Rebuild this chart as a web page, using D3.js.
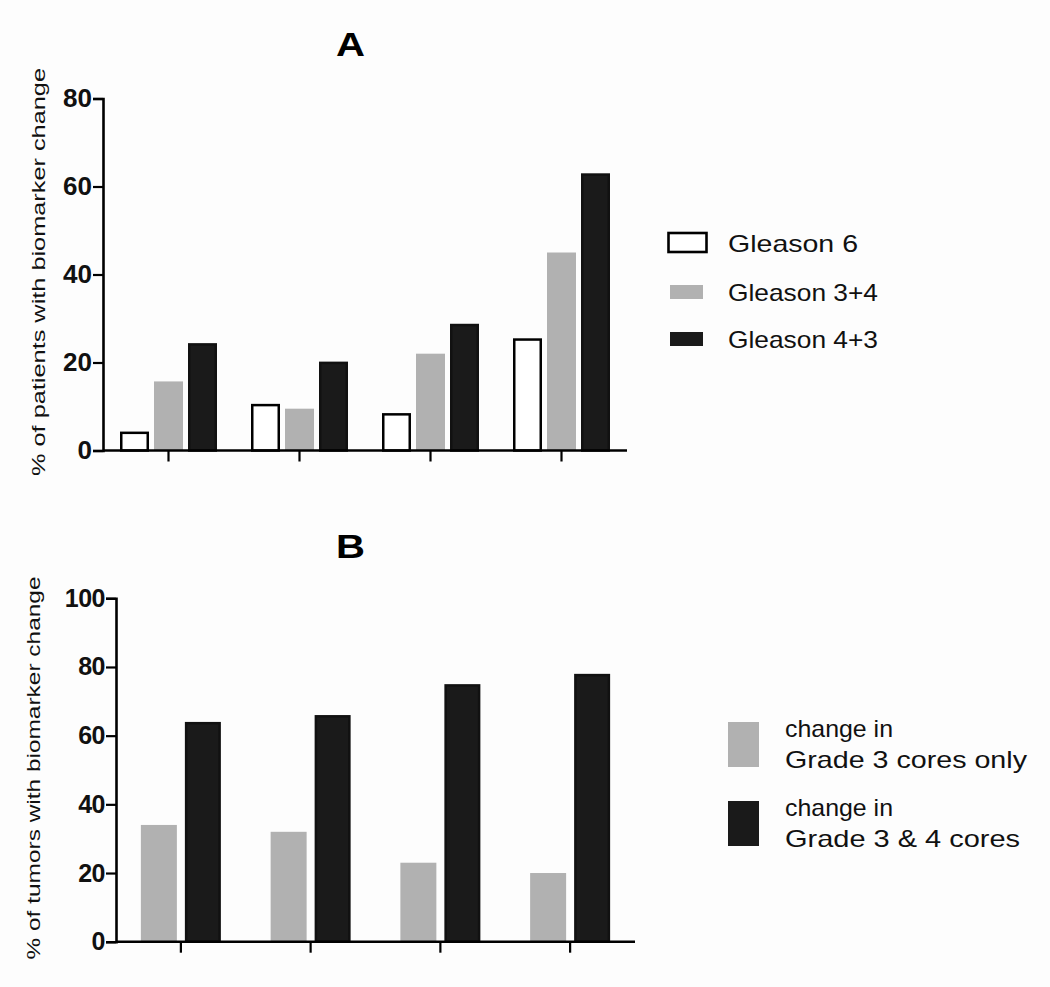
<!DOCTYPE html>
<html><head><meta charset="utf-8">
<script src="https://cdn.jsdelivr.net/npm/d3@7"></script>
<style>body{margin:0;background:#fdfdfd;}svg{display:block;}</style>
</head><body>
<svg id="c" width="1050" height="987"></svg>
<script>
// Panel A data
const categoriesA = ["1", "2", "3", "4"];
const seriesA = ["Gleason 6", "Gleason 3+4", "Gleason 4+3"];
const gleason6 = [4.3, 10.6, 8.5, 25.5];
const gleason34 = [15.7, 9.5, 22, 45];
const gleason43 = [24.4, 20.2, 28.8, 63];
const ticksA = [0, 20, 40, 60, 80];
// Panel B data
const categoriesB = ["1", "2", "3", "4"];
const seriesB = ["change in\nGrade 3 cores only", "change in\nGrade 3 & 4 cores"];
const grade3Only = [34, 32, 23, 20];
const grade34 = [64, 66, 75, 78];
const ticksB = [0, 20, 40, 60, 80, 100];

const GRAY = "#b1b1b1", BLACK = "#1a1a1a";
const svg = d3.select("#c");
const FONT = "'Liberation Sans', Arial, sans-serif";

function panel(o) {
  const g = svg.append("g");
  const y = d3.scaleLinear().domain([0, o.max]).range([o.y0, o.y1]);
  const x = d3.scaleBand().domain(o.cats).range([o.x0, o.x1]);
  const xi = d3.scaleBand().domain(o.series).range([-o.inner, o.inner]);
  o.series.forEach((s, si) => {
    const vals = o.values[si];
    const sw = o.strokes[si] === "none" ? 0 : 2.5;
    const w = o.bw - sw;
    g.selectAll(null).data(o.cats).enter().append("rect")
      .attr("x", (c) => x(c) + x.bandwidth() / 2 + xi(s) + xi.bandwidth() / 2 - w / 2)
      .attr("width", w)
      .attr("y", (c, i) => y(vals[i]) + sw / 2)
      .attr("height", (c, i) => y(0) - y(vals[i]) - sw / 2)
      .attr("fill", o.fills[si])
      .attr("stroke", o.strokes[si])
      .attr("stroke-width", sw);
  });
  const ya = g.append("g").attr("transform", `translate(${o.x0},0)`)
    .call(d3.axisLeft(y).tickValues(o.ticks).tickSize(10).tickPadding(1));
  ya.select(".domain").attr("stroke", "#000").attr("stroke-width", 2.6);
  ya.selectAll(".tick line").attr("stroke", "#000").attr("stroke-width", 2.2);
  ya.selectAll(".tick text").attr("font-family", FONT).attr("font-size", o.tfs)
    .attr("font-weight", "bold").attr("letter-spacing", o.tls).attr("fill", "#111");
  const xa = g.append("g").attr("transform", `translate(0,${o.y0})`)
    .call(d3.axisBottom(x).tickSize(11).tickFormat(""));
  xa.select(".domain").attr("stroke", "#000").attr("stroke-width", 2.6)
    .attr("d", `M${o.x0},0H${o.x1}`);
  xa.selectAll(".tick line").attr("stroke", "#000").attr("stroke-width", 2.2);
  g.append("text").attr("x", o.tx).attr("y", o.ty).attr("text-anchor", "middle")
    .attr("font-family", FONT).attr("font-weight", "bold").attr("font-size", 33)
    .attr("textLength", 29).attr("lengthAdjust", "spacingAndGlyphs")
    .text(o.title);
  g.append("text").attr("transform", `translate(${o.lx},${o.ly}) rotate(-90)`)
    .attr("text-anchor", "middle").attr("font-family", FONT).attr("font-size", o.lfs)
    .attr("textLength", o.llen).attr("lengthAdjust", "spacingAndGlyphs")
    .attr("fill", "#111").text(o.ylabel);
}

panel({
  cats: categoriesA, series: seriesA, values: [gleason6, gleason34, gleason43],
  max: 80, ticks: ticksA, x0: 103, x1: 627, y0: 450.5, y1: 98.5,
  inner: 51, bw: 29, fills: ["#fff", GRAY, BLACK], strokes: ["#000", "none", "#111"],
  title: "A", tx: 350.5, ty: 56, ylabel: "% of patients with biomarker change",
  lx: 45, ly: 272, llen: 408, lfs: 19, tfs: 26, tls: 0
});
panel({
  cats: categoriesB, series: seriesB, values: [grade3Only, grade34],
  max: 100, ticks: ticksB, x0: 116, x1: 635, y0: 941.7, y1: 598.3,
  inner: 44, bw: 36, fills: [GRAY, BLACK], strokes: ["none", "#111"],
  title: "B", tx: 350.5, ty: 558, ylabel: "% of tumors with biomarker change",
  lx: 40, ly: 768, llen: 383, lfs: 18, tfs: 25, tls: -0.5
});

// Legend A
const legA = svg.append("g");
const legAY = [243, 292, 339];
const legALen = [130, 150, 150];
seriesA.forEach((s, i) => {
  if (i === 0) {
    legA.append("rect").attr("x", 668.5).attr("y", legAY[i] - 10).attr("width", 38).attr("height", 19)
      .attr("fill", "#fff").attr("stroke", "#000").attr("stroke-width", 2.6);
  } else {
    legA.append("rect").attr("x", 670).attr("y", legAY[i] - 7).attr("width", 33).attr("height", 14)
      .attr("fill", i === 1 ? GRAY : BLACK);
  }
  legA.append("text").attr("x", 728).attr("y", legAY[i] + 9).attr("font-family", FONT)
    .attr("font-size", 24).attr("textLength", legALen[i]).attr("lengthAdjust", "spacingAndGlyphs")
    .attr("fill", "#111").text(s);
});

// Legend B
const legB = svg.append("g");
const legBY = [722, 801];
const legBFill = [GRAY, BLACK];
const legBLen = [[108, 242], [108, 235]];
seriesB.forEach((s, i) => {
  legB.append("rect").attr("x", 728).attr("y", legBY[i]).attr("width", 31).attr("height", 45)
    .attr("fill", legBFill[i]);
  s.split("\n").forEach((line, j) => {
    legB.append("text").attr("x", 785).attr("y", legBY[i] + 15 + j * 31).attr("font-family", FONT)
      .attr("font-size", 24).attr("textLength", legBLen[i][j]).attr("lengthAdjust", "spacingAndGlyphs")
      .attr("fill", "#111").text(line);
  });
});
</script>
</body></html>
